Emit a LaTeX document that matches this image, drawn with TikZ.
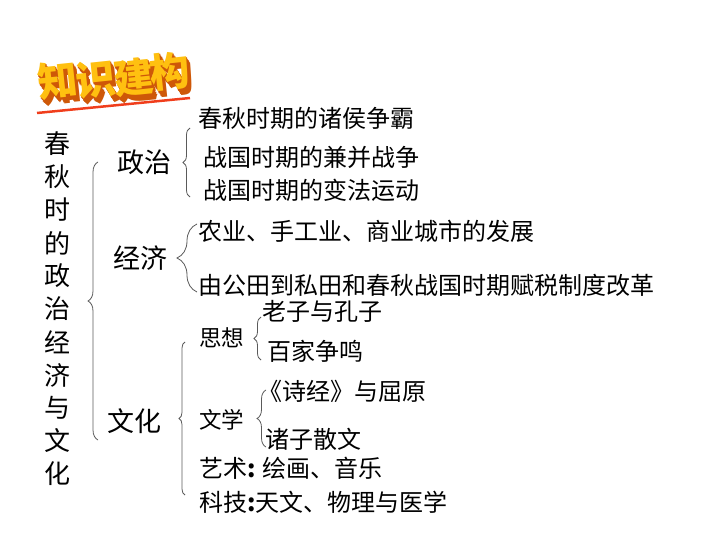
\documentclass[tikz,border=0pt]{standalone}
\usepackage{fontspec}
\setmainfont{Noto Sans CJK SC}
\usepackage{tikz}
\usetikzlibrary{decorations.pathreplacing}

\definecolor{wordface}{RGB}{255,192,16}
\definecolor{wordside}{RGB}{206,88,8}
\definecolor{wordline}{RGB}{240,62,28}
\definecolor{bracegray}{RGB}{90,90,90}

\tikzset{
  wordart/.style={inner sep=0pt, rotate=6, font=\fontsize{40}{40}\selectfont\bfseries},
  titlechar/.style={inner sep=0pt, font=\fontsize{26}{26}\selectfont},
  topic/.style={inner sep=0pt, font=\fontsize{27}{27}\selectfont},
  subtopic/.style={anchor=west, inner sep=0pt, font=\fontsize{22.5}{22.5}\selectfont},
  item/.style={anchor=west, inner sep=0pt, font=\fontsize{24}{24}\selectfont},
  brc/.style={draw=bracegray, line width=0.8pt, decorate},
}

\begin{document}
\begin{tikzpicture}[x=1pt, y=-1pt]
    \useasboundingbox (0,0) rectangle (720,540);

    % title
    \foreach \ch/\x/\y [count=\i] in {知/58/80, 识/96/79, 建/134/77, 构/170/71} {
      \foreach \d in {6,5,...,1} {
        \node [wordart, text=wordside] at (\x+0.6*\d,\y+1.0*\d) {\ch};
      }
      \node [wordart, text=wordface] (w\i) at (\x,\y) {\ch};
    }
    \coordinate (wl1) at (37,113);
    \coordinate (wl2) at (190,98);
    \draw [wordline, line width=2.5pt] (wl1) -- (wl2);

    % vertical heading
    \foreach \c [count=\i] in {春,秋,时,的,政,治,经,济,与,文,化} {
      \node [titlechar] (t\i) at (57,{144+33*(\i-1)}) {\c};
    }
    \draw [brc, decoration={brace, amplitude=10pt}] (98,440) -- (98,162);

    % politics
    \node [topic] (zz) at (144,162) {政治};
    \draw [brc, decoration={brace, amplitude=7pt}] (190,197) -- (190,128);
    \node [item] (zz1) at (198,118) {春秋时期的诸侯争霸};
    \node [item] (zz2) at (203,157) {战国时期的兼并战争};
    \node [item] (zz3) at (203,190) {战国时期的变法运动};

    % economy
    \node [topic] (jj) at (140,258) {经济};
    \draw [brc, decoration={brace, amplitude=20pt}] (197,292) -- (197,224);
    \node [item] (jj1) at (198,231) {农业、手工业、商业城市的发展};
    \node [item] (jj2) at (198,285) {由公田到私田和春秋战国时期赋税制度改革};

    % culture
    \node [topic] (wh) at (134,421) {文化};
    \draw [brc, decoration={brace, amplitude=6pt}] (185,495) -- (185,342);
    \node [subtopic] (sx) at (199,338) {思想};
    \draw [brc, decoration={brace, amplitude=7pt}] (261,360) -- (261,317);
    \node [item] (sx1) at (262,311) {老子与孔子};
    \node [item] (sx2) at (267,351) {百家争鸣};
    \node [subtopic] (wx) at (199,420) {文学};
    \draw [brc, decoration={brace, amplitude=9pt}] (266,447) -- (266,390);
    \node [item] (wx1) at (258,391) {《诗经》与屈原};
    \node [item] (wx2) at (265,439) {诸子散文};
    \node [item] (ys) at (199,468) {艺术\textbf{:} 绘画、音乐};
    \node [item] (kj) at (199,502) {科技\textbf{:}天文、物理与医学};
  \end{tikzpicture}
\end{document}
